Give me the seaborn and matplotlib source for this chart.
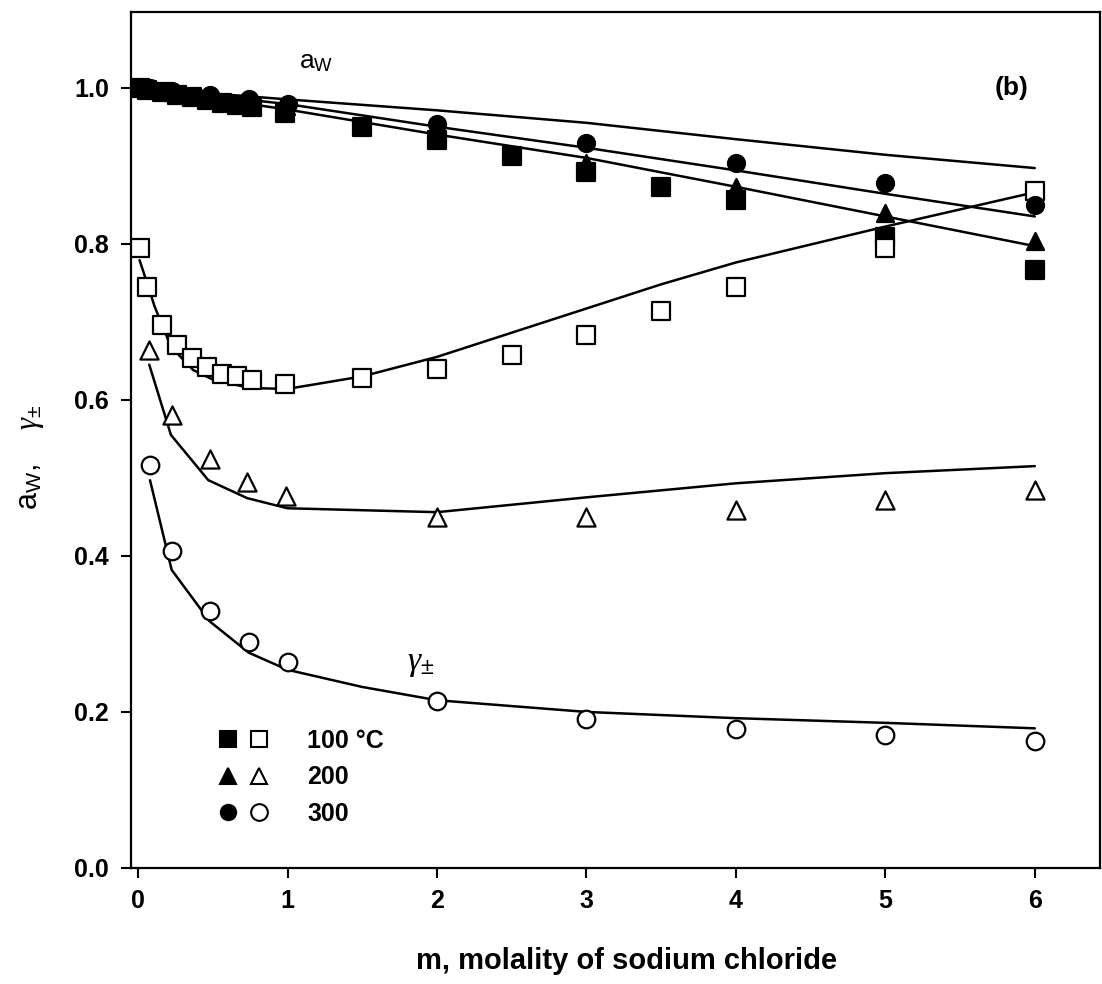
import numpy as np
import pandas as pd
import matplotlib
matplotlib.use("Agg")
import matplotlib.pyplot as plt
from matplotlib.lines import Line2D
from matplotlib.legend_handler import HandlerTuple
import seaborn as sns

# ========== DATA ==========
# 100 C : squares (filled = a_w, open = gamma)
m_100 = [0.01, 0.06, 0.16, 0.26, 0.36, 0.46, 0.56, 0.66, 0.76, 0.98,
         1.5, 2.0, 2.5, 3.0, 3.5, 4.0, 5.0, 6.0]
aw_100 = [0.999, 0.997, 0.994, 0.991, 0.988, 0.984, 0.981, 0.978, 0.975, 0.968,
          0.949, 0.933, 0.912, 0.892, 0.873, 0.856, 0.809, 0.767]
gam_100 = [0.794, 0.744, 0.696, 0.670, 0.654, 0.642, 0.633, 0.630, 0.626, 0.620,
           0.628, 0.640, 0.658, 0.683, 0.714, 0.744, 0.795, 0.867]

# 200 C : triangles
m_200 = [0.07, 0.23, 0.48, 0.73, 0.99, 2.0, 3.0, 4.0, 5.0, 6.0]
aw_200 = [0.998, 0.994, 0.988, 0.982, 0.976, 0.943, 0.904, 0.873, 0.840, 0.803]
gam_200 = [0.664, 0.581, 0.524, 0.495, 0.477, 0.450, 0.450, 0.459, 0.472, 0.485]

# 300 C : circles
m_300 = [0.08, 0.23, 0.48, 0.74, 1.0, 2.0, 3.0, 4.0, 5.0, 6.0]
aw_300 = [0.999, 0.996, 0.990, 0.985, 0.979, 0.953, 0.929, 0.904, 0.878, 0.850]
gam_300 = [0.517, 0.406, 0.329, 0.290, 0.264, 0.214, 0.191, 0.178, 0.170, 0.163]

# model curves
m_aw_fit = [0, 1, 2, 3, 4, 5, 6]
aw_fit_1 = [1.0, 0.985, 0.971, 0.955, 0.934, 0.914, 0.897]
aw_fit_2 = [1.0, 0.979, 0.950, 0.923, 0.894, 0.864, 0.835]
aw_fit_3 = [1.0, 0.972, 0.940, 0.910, 0.873, 0.835, 0.797]

m_gfit_100 = [0.01, 0.06, 0.11, 0.22, 0.37, 0.5, 0.75, 1.0, 1.5, 2.0,
              2.5, 3.0, 3.5, 4.0, 5.0, 6.0]
gfit_100 = [0.779, 0.750, 0.720, 0.668, 0.638, 0.626, 0.615, 0.614, 0.630, 0.655,
            0.686, 0.717, 0.748, 0.776, 0.822, 0.866]
m_gfit_200 = [0.075, 0.22, 0.47, 0.73, 1.0, 2.0, 3.0, 4.0, 5.0, 6.0]
gfit_200 = [0.645, 0.555, 0.497, 0.474, 0.461, 0.456, 0.475, 0.493, 0.506, 0.515]
m_gfit_300 = [0.08, 0.225, 0.48, 0.74, 1.0, 1.5, 2.0, 3.0, 4.0, 5.0, 6.0]
gfit_300 = [0.497, 0.382, 0.316, 0.276, 0.254, 0.232, 0.215, 0.200, 0.192, 0.186, 0.179]

legend_labels = ["100 \u00b0C", "200", "300"]

# ========== STYLE ==========
sns.set_theme(style="ticks")
plt.rcParams["font.family"] = ["Liberation Sans", "DejaVu Sans"]
plt.rcParams["mathtext.fontset"] = "custom"
plt.rcParams["mathtext.rm"] = "Liberation Sans"
plt.rcParams["mathtext.sf"] = "Liberation Sans"
plt.rcParams["mathtext.it"] = "Liberation Serif:italic"
for key in ["text.color", "axes.labelcolor", "xtick.color", "ytick.color", "axes.edgecolor"]:
    plt.rcParams[key] = "black"

fig = plt.figure(figsize=(11.02, 9.84), dpi=100)
ax = fig.add_axes([0.1189, 0.1179, 0.8791, 0.8699])

# ========== CURVES ==========
LW = 1.8
for xs, ys in [(m_aw_fit, aw_fit_1), (m_aw_fit, aw_fit_2), (m_aw_fit, aw_fit_3),
               (m_gfit_100, gfit_100), (m_gfit_200, gfit_200), (m_gfit_300, gfit_300)]:
    sns.lineplot(x=xs, y=ys, ax=ax, color="black", lw=LW, sort=False, estimator=None)

# ========== POINTS ==========
series = [
    (m_100, aw_100, "s", "black", 150),
    (m_100, gam_100, "s", "white", 160),
    (m_200, aw_200, "^", "black", 150),
    (m_200, gam_200, "^", "white", 170),
    (m_300, aw_300, "o", "black", 150),
    (m_300, gam_300, "o", "white", 160),
]
for xs, ys, mk, fc, size in series:
    df = pd.DataFrame({"m": xs, "val": ys})
    sns.scatterplot(data=df, x="m", y="val", ax=ax, marker=mk, s=size,
                    facecolor=fc, edgecolor="black", linewidth=1.6, zorder=3)

# ========== AXES ==========
ax.set_xlim(-0.047, 6.435)
ax.set_ylim(0.0, 1.097)
ax.set_xticks(range(0, 7))
ax.set_yticks([0.0, 0.2, 0.4, 0.6, 0.8, 1.0])
ax.set_yticklabels([f"{v:.1f}" for v in [0.0, 0.2, 0.4, 0.6, 0.8, 1.0]])
ax.tick_params(axis="both", direction="out", length=7, width=1.5,
               labelsize=18, colors="black")
ax.tick_params(axis="x", pad=8)
ax.tick_params(axis="y", pad=9)
for lbl in ax.get_xticklabels() + ax.get_yticklabels():
    lbl.set_fontweight("bold")
for sp in ax.spines.values():
    sp.set_linewidth(1.6)
    sp.set_color("black")
    sp.set_visible(True)

ax.set_xlabel("m, molality of sodium chloride", fontsize=21, fontweight="bold")
ax.xaxis.set_label_coords(0.512, -0.092)
ax.set_ylabel(r"a$_{\mathrm{W}}$,    $\gamma_{\pm}$", fontsize=22)
ax.yaxis.set_label_coords(-0.088, 0.48)

# annotations
ax.text(1.08, 1.025, r"a$_{\mathrm{W}}$", fontsize=19, va="baseline", ha="left")
ax.text(5.73, 1.0, "(b)", fontsize=19, fontweight="bold", va="center", ha="left")
ax.text(1.80, 0.262, r"$\gamma_{\pm}$", fontsize=24, va="center", ha="left")

# ========== LEGEND ==========
handles = []
for mk in ["s", "^", "o"]:
    filled = Line2D([], [], ls="", marker=mk, ms=11, mfc="black", mec="black", mew=1.5)
    hollow = Line2D([], [], ls="", marker=mk, ms=12, mfc="white", mec="black", mew=1.5)
    handles.append((filled, hollow))
ax.legend(handles, legend_labels, handler_map={tuple: HandlerTuple(ndivide=None, pad=0.0)},
          loc="center left", bbox_to_anchor=(0.0836, 0.106), frameon=False,
          handlelength=2.5, handletextpad=1.3, labelspacing=0.5,
          borderpad=0, borderaxespad=0, prop={"size": 18, "weight": "bold"})

fig.savefig("out.png", dpi=100)
